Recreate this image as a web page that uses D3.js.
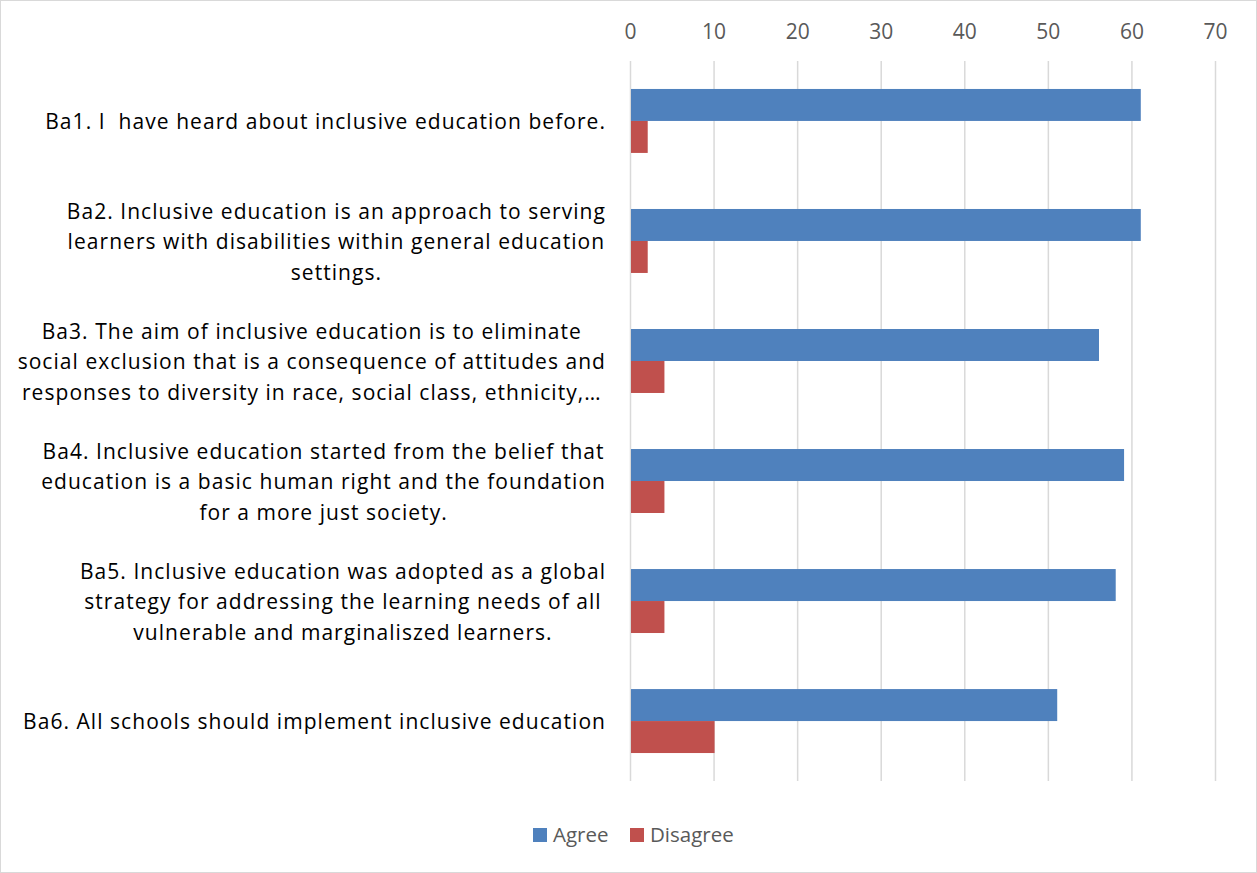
<!DOCTYPE html>
<html>
<head>
<meta charset="utf-8">
<script src="https://cdn.jsdelivr.net/npm/d3@7"></script>
<style>
  body { margin: 0; background: #fff; }
  svg { display: block; }
  text { white-space: pre; }
</style>
</head>
<body>
<div id="chart"></div>
<script>
// category labels, one array of lines per bar group
const categories = [
    ["Ba1. I  have heard about inclusive education before."],
    ["Ba2. Inclusive education is an approach to serving", "learners with disabilities within general education", "settings."],
    ["Ba3. The aim of inclusive education is to eliminate", "social exclusion that is a consequence of attitudes and", "responses to diversity in race, social class, ethnicity,…"],
    ["Ba4. Inclusive education started from the belief that", "education is a basic human right and the foundation", "for a more just society."],
    ["Ba5. Inclusive education was adopted as a global", "strategy for addressing the learning needs of all", "vulnerable and marginaliszed learners."],
    ["Ba6. All schools should implement inclusive education"]
];
const agree = [61, 61, 56, 59, 58, 51];
const disagree = [2, 2, 4, 4, 4, 10];
const seriesNames = ["Agree", "Disagree"];
const colors = ["#4F81BD", "#C0504D"];
const xTicks = [0, 10, 20, 30, 40, 50, 60, 70];

const W = 1257, H = 873;
const margin = { top: 61, right: 42, bottom: 92, left: 630 };
const width = W - margin.left - margin.right,
    height = H - margin.top - margin.bottom;
const font = "'Open Sans', sans-serif";

const svg = d3.select("#chart").append("svg")
    .attr("width", W)
    .attr("height", H);

// outer frame
svg.append("rect")
    .attr("x", 0.5).attr("y", 0.5)
    .attr("width", W - 1).attr("height", H - 1)
    .attr("fill", "#fff")
    .attr("stroke", "#d9d9d9");

const g = svg.append("g")
    .attr("transform", "translate(" + margin.left + "," + margin.top + ")");

const x = d3.scaleLinear().domain([0, 70]).range([0, width]);
const y = d3.scaleBand()
    .domain(d3.range(categories.length))
    .range([0, height])
    .paddingInner(0.467)
    .paddingOuter(0.233);
const ySub = d3.scaleBand().domain([0, 1]).range([0, y.bandwidth()]);

// gridlines
g.append("g")
    .selectAll("line")
    .data(xTicks)
    .enter().append("line")
    .attr("x1", d => x(d) + 0.5).attr("x2", d => x(d) + 0.5)
    .attr("y1", 0).attr("y2", height)
    .attr("stroke", "#d9d9d9")
    .attr("stroke-width", 1.5);

// top axis labels
const xAxis = g.append("g")
    .call(d3.axisTop(x).tickValues(xTicks).tickSize(0).tickPadding(22));
xAxis.select(".domain").remove();
xAxis.selectAll("text")
    .attr("fill", "#595959")
    .style("font-family", font)
    .style("font-size", "21px");

// bars
const groups = g.selectAll(".grp")
    .data(categories.map((c, i) => ({ i: i, vals: [agree[i], disagree[i]] })))
    .enter().append("g")
    .attr("transform", d => "translate(0," + y(d.i) + ")");

groups.selectAll("rect")
    .data(d => d.vals)
    .enter().append("rect")
    .attr("x", x(0) + 1)
    .attr("y", (d, j) => ySub(j))
    .attr("width", d => x(d) - x(0))
    .attr("height", ySub.bandwidth())
    .attr("fill", (d, j) => colors[j]);

// category labels
const lineH = 30.5;
const labels = g.selectAll(".lbl")
    .data(categories)
    .enter().append("text")
    .attr("text-anchor", "end")
    .attr("fill", "#000")
    .style("font-family", font)
    .style("font-size", "21px")
    .style("letter-spacing", "1.05px")
    .attr("transform", (d, i) => "translate(-24," + (y(i) + y.bandwidth() / 2 + 1) + ")");

labels.each(function (lines) {
    const t = d3.select(this);
    const y0 = -(lines.length - 1) * lineH / 2;
    lines.forEach((ln, k) => {
        t.append("tspan")
            .attr("x", 0)
            .attr("y", y0 + k * lineH)
            .attr("dy", "0.35em")
            .text(ln);
    });
});
// shorter lines of wrapped labels are centered under the widest one
labels.each(function (lines) {
    if (lines.length > 1) {
        const tsp = d3.select(this).selectAll("tspan").nodes();
        const w0 = d3.max(tsp, n => n.getComputedTextLength());
        tsp.forEach(n => {
            const w = n.getComputedTextLength();
            d3.select(n).attr("x", -(w0 - w) / 2);
        });
    }
});

// legend
const legend = svg.append("g")
    .attr("transform", "translate(533,828)");
const legItems = legend.selectAll("g")
    .data(seriesNames)
    .enter().append("g")
    .attr("transform", (d, i) => "translate(" + (i * 97) + ",0)");
legItems.append("rect")
    .attr("width", 14).attr("height", 14)
    .attr("fill", (d, i) => colors[i]);
legItems.append("text")
    .attr("x", 20).attr("y", 7)
    .attr("dy", "0.35em")
    .attr("fill", "#595959")
    .style("font-family", font)
    .style("font-size", "20.5px")
    .text(d => d);
</script>
</body>
</html>
